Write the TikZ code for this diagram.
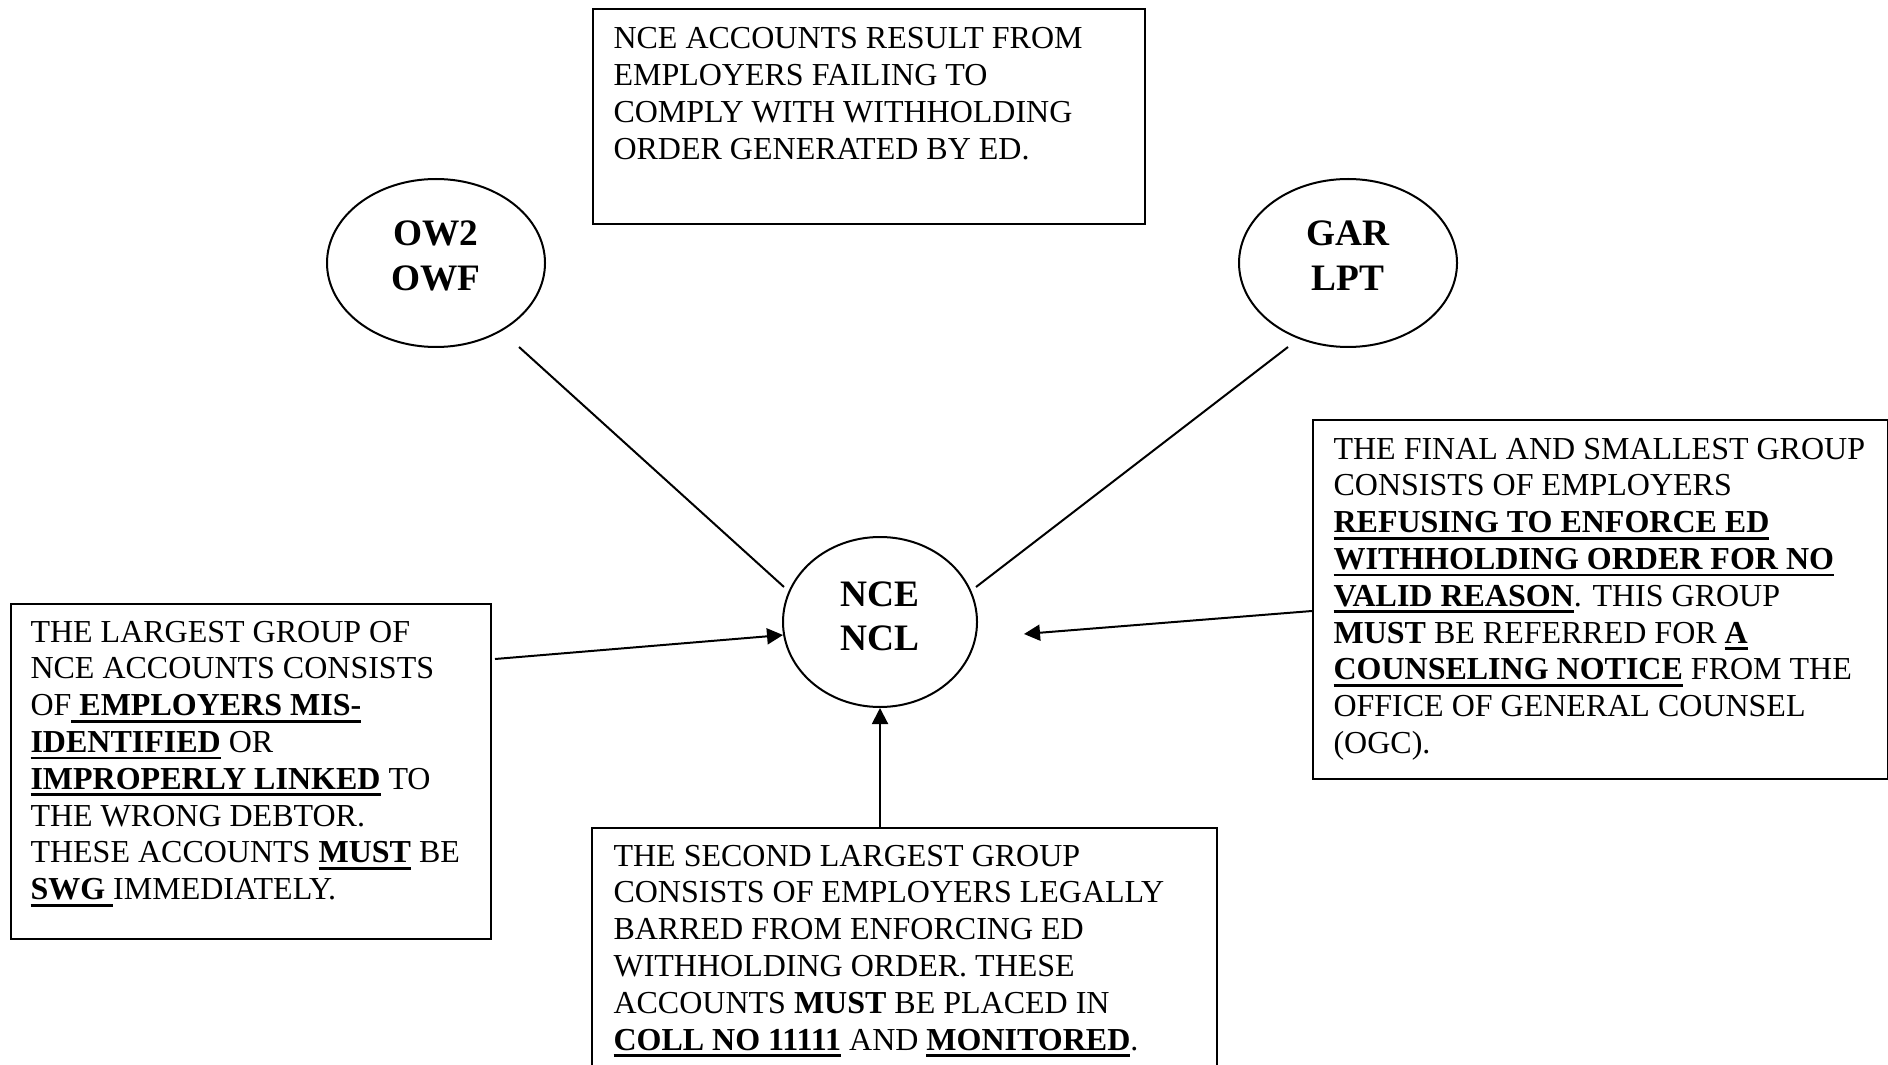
\documentclass[tikz,border=0pt]{standalone}
\usepackage{fontspec}
\setmainfont{Liberation Serif}
\usetikzlibrary{arrows.meta,shapes.geometric}

% underline with a bar set a little below the baseline
\newcommand\ulbar[1]{\leavevmode\setbox0=\hbox{#1}\rlap{\rule[-2.6pt]{\wd0}{1pt}}\box0\relax}
\newcommand\bodytext{\fontsize{12pt}{13.8pt}\selectfont}
\newcommand\tagtext{\fontsize{14pt}{16.6pt}\selectfont\bfseries}

\tikzset{
  frame/.style={draw, rectangle, line width=0.8pt, inner sep=0pt, anchor=north west},
  blob/.style={draw, ellipse, line width=0.75pt, inner sep=0pt},
  para/.style={anchor=base west, inner sep=0pt},
  tag/.style={anchor=base, inner sep=0pt},
  link/.style={line width=0.75pt},
  feed/.style={line width=0.75pt, -{Triangle[length=6pt,width=6pt]}},
}

\begin{document}
\begin{tikzpicture}[x=0.375pt, y=-0.375pt]
  \useasboundingbox (0,0) rectangle (1888,1065);
  \clip (0,0) rectangle (1888,1065);

  % text boxes
  \node[frame, minimum width=207pt, minimum height=80.6pt] (origin) at (592,8) {};
  \node[para] (origintxt) at (613,49) {\parbox[t]{200pt}{\bodytext\raggedright
    NCE ACCOUNTS RESULT FROM\\
    EMPLOYERS FAILING TO\\
    COMPLY WITH WITHHOLDING\\
    ORDER GENERATED BY ED.}};

  \node[frame, minimum width=180pt, minimum height=125.6pt] (largest) at (10,603) {};
  \node[para] (largesttxt) at (30,642) {\parbox[t]{175pt}{\bodytext\raggedright
    THE LARGEST GROUP OF\\
    NCE ACCOUNTS CONSISTS\\
    OF\ulbar{\ \textbf{EMPLOYERS MIS-}}\\
    \ulbar{\textbf{IDENTIFIED}} OR\\
    \ulbar{\textbf{IMPROPERLY LINKED}} TO\\
    THE WRONG DEBTOR.\\
    THESE ACCOUNTS \ulbar{\textbf{MUST}} BE\\
    \ulbar{\textbf{SWG}\ }IMMEDIATELY.}};

  \node[frame, minimum width=234.4pt, minimum height=100pt] (second) at (591,827) {};
  \node[para] (secondtxt) at (613,866) {\parbox[t]{230pt}{\bodytext\raggedright
    THE SECOND LARGEST GROUP\\
    CONSISTS OF EMPLOYERS LEGALLY\\
    BARRED FROM ENFORCING ED\\
    WITHHOLDING ORDER. THESE\\
    ACCOUNTS \textbf{MUST} BE PLACED IN\\
    \ulbar{\textbf{COLL NO 11111}} AND \ulbar{\textbf{MONITORED}}.}};

  \node[frame, minimum width=215.6pt, minimum height=134.6pt] (smallest) at (1312,419) {};
  \node[para] (smallesttxt) at (1333,459) {\parbox[t]{210pt}{\bodytext\raggedright
    THE FINAL AND SMALLEST GROUP\\
    CONSISTS OF EMPLOYERS\\
    \ulbar{\textbf{REFUSING TO ENFORCE ED}}\\
    \ulbar{\textbf{WITHHOLDING ORDER FOR NO}}\\
    \ulbar{\textbf{VALID REASON}}. THIS GROUP\\
    \textbf{MUST} BE REFERRED FOR \ulbar{\textbf{A}}\\
    \ulbar{\textbf{COUNSELING NOTICE}} FROM THE\\
    OFFICE OF GENERAL COUNSEL\\
    (OGC).}};

  % code ellipses
  \node[blob, minimum width=81.75pt, minimum height=63pt] (ow) at (436,263) {};
  \node[tag] (owtxt) at (436,246) {\parbox[t]{60pt}{\centering\tagtext OW2\\OWF}};

  \node[blob, minimum width=81.75pt, minimum height=63pt] (gar) at (1348,263) {};
  \node[tag] (gartxt) at (1348,246) {\parbox[t]{60pt}{\centering\tagtext GAR\\LPT}};

  \node[blob, minimum width=72.75pt, minimum height=63.75pt] (nce) at (880,622) {};
  \node[tag] (ncetxt) at (880,606) {\parbox[t]{60pt}{\centering\tagtext NCE\\NCL}};

  % free ends of the connectors
  \coordinate (owfoot) at (519,347);
  \coordinate (ncenw) at (784,587);
  \coordinate (garfoot) at (1288,347);
  \coordinate (ncene) at (976,587);
  \coordinate (largestout) at (495,659);
  \coordinate (ncewin) at (783,635);
  \coordinate (smallestout) at (1312,611);
  \coordinate (nceein) at (1024,634);

  % connectors
  \draw[link] (owfoot) -- (ncenw);
  \draw[link] (garfoot) -- (ncene);
  \draw[feed] (largestout) -- (ncewin);
  \draw[feed] (smallestout) -- (nceein);
  \draw[feed] (nce.south |- second.north) -- (nce.south);
\end{tikzpicture}
\end{document}
